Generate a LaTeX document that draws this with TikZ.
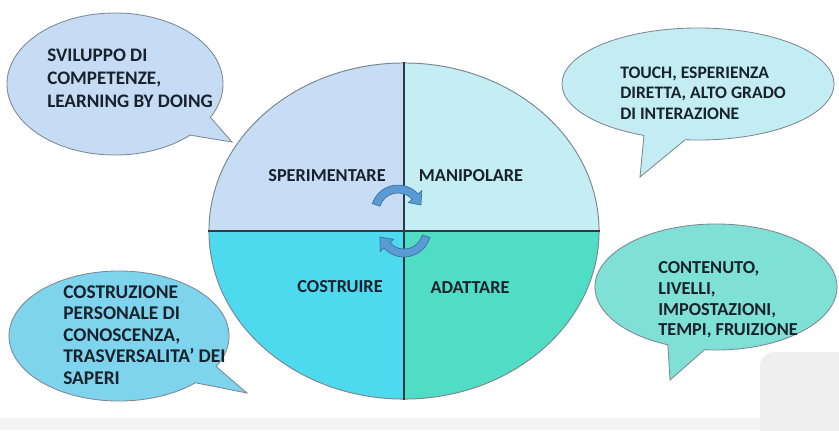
\documentclass[tikz,border=0pt]{standalone}
\usepackage{fontspec}
\setmainfont{Carlito}
\usepackage{xcolor}
\definecolor{qblue}{RGB}{198,221,245}
\definecolor{qpale}{RGB}{196,238,244}
\definecolor{qcyan}{RGB}{78,218,238}
\definecolor{qteal}{RGB}{80,221,198}
\definecolor{bblue}{RGB}{197,220,244}
\definecolor{bpale}{RGB}{196,237,243}
\definecolor{bcyan}{RGB}{126,212,236}
\definecolor{bteal}{RGB}{127,224,214}
\definecolor{edgegray}{RGB}{125,135,145}
\definecolor{divline}{RGB}{45,58,68}
\definecolor{inkdark}{RGB}{24,34,44}
\definecolor{arrowblue}{RGB}{91,155,213}
\definecolor{arrowedge}{RGB}{65,113,156}
\definecolor{overlaygray}{RGB}{239,239,239}
\usetikzlibrary{positioning,shapes.geometric,shapes.callouts}
\tikzset{
  bubble/.style={ellipse callout, draw=edgegray, line width=0.6pt, inner sep=0pt, callout pointer arc=18},
  bubbletext/.style={align=left, anchor=west, inner sep=0pt, text=inkdark, font=\fontsize{13}{14.6}\selectfont\bfseries},
  quadlabel/.style={inner sep=0pt, text=inkdark, font=\fontsize{13}{15}\selectfont\bfseries},
  turnarrow/.style={fill=arrowblue, draw=arrowedge, line width=0.5pt},
  divider/.style={draw=divline, line width=1.1pt}
}

\begin{document}
\begin{tikzpicture}[x=0.025cm, y=-0.025cm]
  \useasboundingbox (0,0) rectangle (839,430);
  \fill[overlaygray!70] (0,418) rectangle (839,430);
  \fill[overlaygray, rounded corners=10] (760,352) rectangle (860,450);

  % central cycle
  \node[ellipse, draw=edgegray, line width=0.7pt, minimum width=9.75cm, minimum height=8.4cm, inner sep=0pt,
    path picture={
      \fill[qblue] (path picture bounding box.north west) rectangle (path picture bounding box.center);
      \fill[qpale] (path picture bounding box.north east) rectangle (path picture bounding box.center);
      \fill[qcyan] (path picture bounding box.south west) rectangle (path picture bounding box.center);
      \fill[qteal] (path picture bounding box.south east) rectangle (path picture bounding box.center);
    }] (ciclo) at (404,231) {};
  \draw[divider] (ciclo.north) -- (ciclo.south);
  \draw[divider] (ciclo.west) -- (ciclo.east);

  \node[quadlabel] (sper) at (327,176) {SPERIMENTARE};
  \node[quadlabel] (mani) at (471,176) {MANIPOLARE};
  \node[quadlabel] (costr) at (340,287) {COSTRUIRE};
  \node[quadlabel] (adat) at (470,288) {ADATTARE};

  % turning arrows
  \begin{scope}[shift={(398,212)}]
    \filldraw[turnarrow] (198:27) arc[start angle=198, end angle=318, radius=27] -- (318:32) -- (343:24) -- (318:14) -- (318:19) arc[start angle=318, end angle=198, radius=19] -- cycle;
  \end{scope}
  \begin{scope}[shift={(404,230)}]
    \filldraw[turnarrow] (16:27) arc[start angle=16, end angle=138, radius=27] -- (138:32) -- (164:25) -- (138:14) -- (138:19) arc[start angle=138, end angle=16, radius=19] -- cycle;
  \end{scope}

  % speech bubbles
  \node[bubble, fill=bblue, minimum width=5.4cm, minimum height=3.55cm, callout absolute pointer={(232,142)}] (b1) at (115,84) {};
  \node[bubbletext, font=\fontsize{13.6}{16.4}\selectfont\bfseries] (t1) at (47,78) {SVILUPPO DI\\COMPETENZE,\\LEARNING BY DOING};

  \node[bubble, fill=bpale, minimum width=6.8cm, minimum height=2.8cm, callout absolute pointer={(640,177)}] (b2) at (698,84) {};
  \node[bubbletext, font=\fontsize{12.5}{14.6}\selectfont\bfseries] (t2) at (620,93) {TOUCH, ESPERIENZA\\DIRETTA, ALTO GRADO\\DI INTERAZIONE};

  \node[bubble, fill=bcyan, minimum width=5.5cm, minimum height=3.25cm, callout absolute pointer={(247,393)}] (b3) at (119,336) {};
  \node[bubbletext, font=\fontsize{13.8}{15.3}\selectfont\bfseries] (t3) at (63,335) {COSTRUZIONE\\PERSONALE DI\\CONOSCENZA,\\TRASVERSALITA' DEI\\SAPERI};

  \node[bubble, fill=bteal, minimum width=6.05cm, minimum height=3.15cm, callout absolute pointer={(670,380)}] (b4) at (716,287) {};
  \node[bubbletext] (t4) at (658,300) {CONTENUTO,\\LIVELLI,\\IMPOSTAZIONI,\\TEMPI, FRUIZIONE};
\end{tikzpicture}
\end{document}
